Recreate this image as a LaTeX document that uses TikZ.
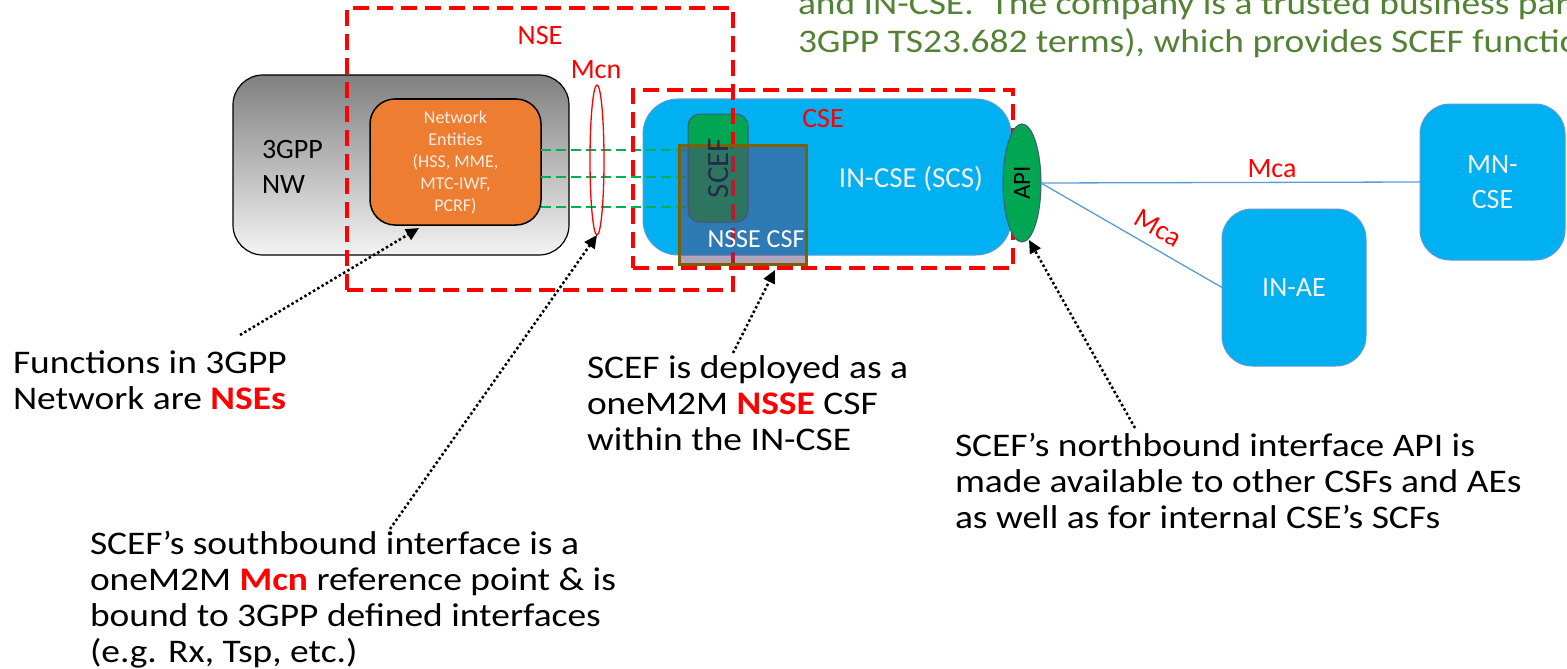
\documentclass[tikz,border=0pt]{standalone}
\usepackage{fontspec}
\setmainfont{Carlito}
\newfontfamily\annfont{Carlito}[FakeStretch=1.135]
\usetikzlibrary{arrows.meta,shapes.geometric}
\definecolor{cblue}{RGB}{0,176,240}
\definecolor{cbord}{RGB}{91,155,213}
\definecolor{corange}{RGB}{237,125,49}
\definecolor{cgreen}{RGB}{0,176,80}
\definecolor{capi}{RGB}{0,166,81}
\definecolor{cdk}{RGB}{65,90,120}
\definecolor{cnsse}{RGB}{97,64,116}
\definecolor{cbrown}{RGB}{127,96,0}
\definecolor{colive}{RGB}{84,130,53}
\definecolor{cred}{RGB}{255,0,0}
\definecolor{cgtop}{RGB}{128,128,128}
\definecolor{cgbot}{RGB}{243,243,243}
\definecolor{cpeach}{RGB}{250,236,226}
\definecolor{cwhite}{RGB}{242,242,242}
\definecolor{cscef}{RGB}{35,45,75}
\begin{document}
\begin{tikzpicture}[x=1pt,y=-1pt,
  every node/.style={inner sep=0pt, outer sep=0pt},
  greybox/.style={rectangle, rounded corners=30pt, draw=black, line width=1.2pt, top color=cgtop, bottom color=cgbot},
  orangebox/.style={rectangle, rounded corners=25pt, draw=black, line width=1.5pt, fill=corange, text=cpeach, align=center, font=\fontsize{18}{22}\selectfont},
  bluebox/.style={rectangle, rounded corners=30pt, fill=cblue, draw=cbord, line width=1pt, text=cwhite, align=center, font=\fontsize{28}{35}\selectfont},
  scefbox/.style={rectangle, rounded corners=12pt, fill=capi, draw=cdk, line width=1pt},
  nssebox/.style={rectangle, fill=cnsse, fill opacity=0.48, draw=cbrown, line width=3pt},
  reddash/.style={rectangle, draw=cred, line width=4.5pt, dash pattern=on 16pt off 8pt},
  gdash/.style={draw=cgreen, line width=2.2pt, dash pattern=on 10pt off 5pt},
  redlabel/.style={text=cred, font=\fontsize{28}{32}\selectfont},
  mcaline/.style={draw=cbord, line width=1.3pt},
  dotarrow/.style={line width=2.5pt, dash pattern=on 2.5pt off 2.5pt, -{Triangle[length=13pt,width=12pt]}},
  ann/.style={font=\annfont\fontsize{33}{36}\selectfont, anchor=base west}
]
\useasboundingbox (0,0) rectangle (1567,669);

% 3GPP network
\node[greybox, minimum width=336pt, minimum height=180pt] (nw) at (401,165) {};
\node[font=\fontsize{28}{34}\selectfont, anchor=base west] (nwa) at (262,158) {3GPP};
\node[font=\fontsize{28}{34}\selectfont, anchor=base west] (nwb) at (262,193) {NW};
\node[orangebox, minimum width=171pt, minimum height=126pt] (ne) at (455.5,162) {Network\\Entities\\(HSS, MME,\\MTC-IWF,\\PCRF)};

% IN-CSE
\node[bluebox, rounded corners=35pt, minimum width=368pt, minimum height=156pt] (incse) at (827,177) {};
\node[text=cwhite, font=\fontsize{29}{34}\selectfont, anchor=base] (incset) at (911,187) {IN-CSE (SCS)};
\node[scefbox, minimum width=60pt, minimum height=108pt] (scef) at (718,168) {};

% green dashed southbound links
\coordinate (g1) at ([yshift=12pt]ne.east);
\coordinate (g2) at ([yshift=-15pt]ne.east);
\coordinate (g3) at ([yshift=-45pt]ne.east);
\draw[gdash] (g1) -- (g1 -| scef.west);
\draw[gdash] (g2) -- (g2 -| scef.west);
\draw[gdash] (g3) -- (g3 -| scef.west);

% dashed domains
\node[reddash, minimum width=386pt, minimum height=282pt] (nse) at (540,149) {};
\node[reddash, minimum width=380pt, minimum height=178pt] (cse) at (823,179) {};

% NSSE overlay
\node[nssebox, minimum width=127pt, minimum height=119pt] (nsse) at (742.5,204.5) {};
\node[text=cscef, rotate=90, font=\fontsize{31}{36}\selectfont] (sceft) at (719,168) {SCEF};
\node[text=white, anchor=base, font=\fontsize{26}{31}\selectfont] (nsset) at (756,247) {NSSE CSF};

% red labels
\node[redlabel, anchor=base] (nsel) at (540,45) {NSE};
\node[redlabel, anchor=base] (mcnl) at (596,78) {Mcn};
\node[redlabel, anchor=base] (csel) at (823,128) {CSE};
\node[ellipse, draw=cred, line width=1.3pt, minimum width=14pt, minimum height=150pt] (mcn) at (597,160) {};

% API
\node[ellipse, fill=capi, draw=cdk, line width=1pt, minimum width=38pt, minimum height=118pt] (api) at (1022,183) {};
\node[rotate=90, font=\fontsize{25}{30}\selectfont] (apit) at (1022,183) {API};

% right side
\node[bluebox, minimum width=144pt, minimum height=157pt] (inae) at (1294,287.5) {IN-AE};
\node[bluebox, minimum width=145pt, minimum height=156pt] (mncse) at (1492.5,182) {MN-\\CSE};
\draw[mcaline] (api.east) -- (mncse.west);
\draw[mcaline] (api.east) -- (inae.west);
\node[redlabel, anchor=base] (mca1) at (1272,177) {Mca};
\node[redlabel, rotate=-30] (mca2) at (1158,228) {Mca};

% annotations
\node[ann, text=colive] (gt1) at (798,15) {and IN-CSE.\ \ The company is a trusted business par};
\node[ann, text=colive] (gt2) at (798,53) {3GPP TS23.682 terms), which provides SCEF functio};
\node[ann] (f1) at (13,373) {Functions in 3GPP};
\node[ann] (f2) at (13,409) {Network are {\color{cred}\bfseries NSEs}};
\node[ann] (d1) at (587,378) {SCEF is deployed as a};
\node[ann] (d2) at (587,414) {oneM2M {\color{cred}\bfseries NSSE} CSF};
\node[ann] (d3) at (587,450) {within the IN-CSE};
\node[ann] (n1) at (955,456) {SCEF’s northbound interface API is};
\node[ann] (n2) at (955,492) {made available to other CSFs and AEs};
\node[ann] (n3) at (955,528) {as well as for internal CSE’s SCFs};
\node[ann] (s1) at (90,554) {SCEF’s southbound interface is a};
\node[ann] (s2) at (90,590) {oneM2M {\color{cred}\bfseries Mcn} reference point \& is};
\node[ann] (s3) at (90,626) {bound to 3GPP defined interfaces};
\node[ann] (s4) at (90,662) {(e.g. Rx, Tsp, etc.)};

% dotted pointer arrows
\coordinate (a1s) at (240,335);
\coordinate (a1e) at (419,228);
\coordinate (a2s) at (390,529);
\coordinate (a3s) at (733,353);
\coordinate (a3e) at (775,270);
\coordinate (a4s) at (1135,428);
\coordinate (a4e) at (1029,240);
\draw[dotarrow] (a1s) -- (a1e);
\draw[dotarrow] (a2s) -- (mcn.south);
\draw[dotarrow] (a3s) -- (a3e);
\draw[dotarrow] (a4s) -- (a4e);
\end{tikzpicture}
\end{document}
